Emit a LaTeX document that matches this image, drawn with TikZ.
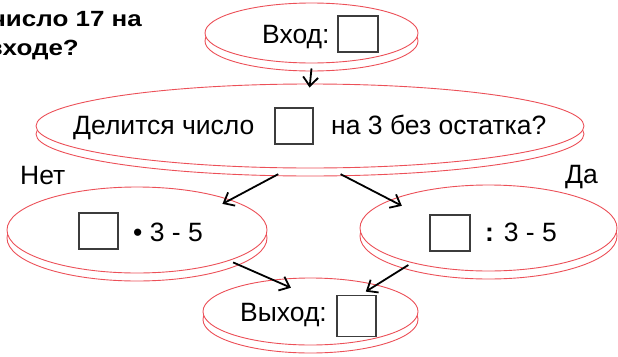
\documentclass[tikz,border=0pt]{standalone}
\usepackage{fontspec}
\setmainfont{Liberation Sans}
\usepackage{graphicx}
\usetikzlibrary{shapes,arrows.meta,positioning}
\definecolor{diskred}{RGB}{236,80,88}
\definecolor{cellgray}{RGB}{60,60,60}
\begin{document}
\begin{tikzpicture}[x=1pt,y=-1pt,
  disk/.style={ellipse,draw=diskred,fill=white,line width=0.9pt,inner sep=0pt,
    preaction={draw=diskred,line width=0.9pt,transform canvas={yshift=-8pt}}},
  cell/.style={draw=cellgray,line width=1.3pt,inner sep=0pt},
  txt/.style={inner sep=0pt,anchor=base west,font=\fontsize{26.5}{30}\selectfont},
  ask/.style={inner sep=0pt,anchor=base east,font=\bfseries\fontsize{22}{26}\selectfont},
  go/.style={-{Straight Barb[length=9pt,width=15pt]},line width=1.8pt}]
  \useasboundingbox (0,0) rectangle (618,356);
  \clip (0,0) rectangle (618,356);

  \node[ask] (q1) at (142,27) {\scalebox{1.18}[1]{число 17 на}};
  \node[ask] (q2) at (79,55) {\scalebox{1.18}[1]{входе?}};

  \node[disk,minimum width=213pt,minimum height=60pt] (inp) at (311.5,33) {};
  \node[disk,minimum width=548pt,minimum height=84pt] (cond) at (310,126) {};
  \node[disk,minimum width=260pt,minimum height=86pt] (nt) at (137,230) {};
  \node[disk,minimum width=257pt,minimum height=86pt] (da) at (488.5,228) {};
  \node[disk,minimum width=215pt,minimum height=67pt] (outp) at (310.5,311.5) {};

  \node[txt] (t1) at (262,43) {Вход:};
  \node[cell,minimum width=40pt,minimum height=36pt] (c1) at (358,34) {};
  \node[txt] (t2) at (73,134) {Делится число};
  \node[cell,minimum width=38pt,minimum height=36pt] (c2) at (294,126) {};
  \node[txt] (t3) at (331,134) {на 3 без остатка?};
  \node[txt] (nlab) at (20,184) {Нет};
  \node[txt] (dlab) at (565,183) {Да};
  \node[cell,minimum width=39pt,minimum height=36pt] (c3) at (98.5,231) {};
  \node[txt] (t4) at (133,241) {• 3 - 5};
  \node[cell,minimum width=40pt,minimum height=36pt] (c4) at (450,233) {};
  \node[txt] (t5) at (485,241) {\textbf{:} 3 - 5};
  \node[txt] (t6) at (240,321) {Выход:};
  \node[cell,minimum width=39pt,minimum height=41pt] (c5) at (356.5,316) {};

  \draw[go,shorten >=-4pt] ([yshift=-5pt]inp.south) -- (cond.north);
  \draw[go,shorten >=-9pt] ([yshift=-6pt]cond.-127) -- (nt.18);
  \draw[go,shorten >=-13pt] ([yshift=-6pt]cond.-54) -- (da.164);
  \draw[go,shorten >=-20pt] ([yshift=-3pt]nt.-17) -- (outp.140);
  \draw[go,shorten >=-13pt] ([yshift=-3pt]da.203) -- (outp.22);
\end{tikzpicture}
\end{document}
